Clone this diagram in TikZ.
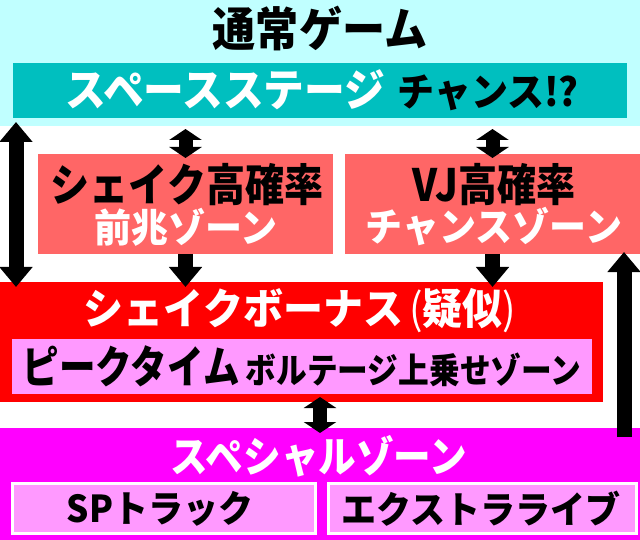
\documentclass[tikz,border=0pt]{standalone}
\usepackage{fontspec}
\setmainfont{Noto Sans CJK JP}[BoldFont={Noto Sans CJK JP Black}]
\usetikzlibrary{arrows.meta,calc}
\definecolor{cyanbg}{HTML}{C0FFFF}
\definecolor{tealbox}{HTML}{00BFBF}
\definecolor{salmon}{HTML}{FF6666}
\definecolor{redbox}{HTML}{FF0000}
\definecolor{pinkbox}{HTML}{FF99FF}
\definecolor{magbox}{HTML}{FF00FF}
\newcommand\fsz[1]{\fontsize{#1}{#1}\selectfont}
\newcommand\xsc[2]{\scalebox{#1}[1.06]{#2}}
\begin{document}
\begin{tikzpicture}[x=1pt,y=-1pt,
  area/.style={draw=none, inner sep=0pt, outer sep=0pt, anchor=north west},
  lbl/.style={inner sep=0pt, outer sep=0pt, font=\bfseries},
  bigarrow/.style={line width=15pt, -{Triangle[width=32pt,length=20pt]}},
  bigdbl/.style={line width=15pt, {Triangle[width=32pt,length=20pt]}-{Triangle[width=32pt,length=20pt]}},
  smalldbl/.style={line width=14pt, {Triangle[width=32pt,length=11pt]}-{Triangle[width=32pt,length=11pt]}},
]
\useasboundingbox (0,0) rectangle (640,540);
\fill[white] (0,0) rectangle (640,540);

% areas
\node[area, fill=cyanbg, minimum width=640pt, minimum height=126pt] (bg) at (0,0) {};
\node[area, fill=tealbox, minimum width=614pt, minimum height=55pt] (teal) at (13,63) {};
\node[area, fill=salmon, minimum width=295pt, minimum height=100pt] (sL) at (38,154) {};
\node[area, fill=salmon, minimum width=295pt, minimum height=100pt] (sR) at (345,154) {};
\node[area, fill=redbox, minimum width=603pt, minimum height=120pt] (red) at (0,282) {};
\node[area, fill=pinkbox, minimum width=580pt, minimum height=55pt] (pk) at (12,339) {};
\node[area, fill=magbox, minimum width=640pt, minimum height=112pt] (mag) at (0,428) {};
\node[area, fill=pinkbox, draw=white, line width=3.5pt, minimum width=303pt, minimum height=50pt] (spL) at (12.5,483.5) {};
\node[area, fill=pinkbox, draw=white, line width=3.5pt, minimum width=308pt, minimum height=50pt] (spR) at (328.5,483.5) {};

% texts
\node[lbl] (title) at (320,28) {\fsz{44}\xsc{0.98}{通常ゲーム}};
\node[lbl] (tealtxt) at (322,90) {{\color{white}\fsz{42}\xsc{0.97}{スペースステージ}}\hspace{12pt}{\fsz{37}\xsc{1}{チャンス!?}}};
\node[lbl] (sL1) at (187,185) {\fsz{42}\xsc{0.93}{シェイク高確率}};
\node[lbl, text=white] (sL2) at (186,227) {\fsz{37}\xsc{1}{前兆ゾーン}};
\node[lbl] (sR1) at (494,185) {\fsz{42}\xsc{0.93}{VJ高確率}};
\node[lbl, text=white] (sR2) at (494,227) {\fsz{37}\xsc{1}{チャンスゾーン}};
\node[lbl, text=white] (redtxt) at (300,311) {\fsz{40}\xsc{1}{シェイクボーナス\hspace{6pt}{\mdseries(}疑似{\mdseries)}}};
\node[lbl] (pktxt) at (302,366) {{\fsz{42}\xsc{0.87}{ピークタイム}}\hspace{6pt}{\fsz{33}\xsc{0.93}{ボルテージ上乗せゾーン}}};
\node[lbl, text=white] (magtxt) at (319,456) {\fsz{40}\xsc{0.94}{スペシャルゾーン}};
\node[lbl] (spLtxt) at (160,509) {\fsz{35}\xsc{1}{SPトラック}};
\node[lbl] (spRtxt) at (481,509) {\fsz{35}\xsc{1}{エクストラライブ}};

% connectors
\draw[bigdbl] ($(bg.south west)+(16,-4)$) -- ($(red.north west)+(16,5)$);
\draw[smalldbl] ($(sL.north)+(0,-25)$) -- ($(sL.north)+(0,4)$);
\draw[smalldbl] ($(sR.north)+(0,-25)$) -- ($(sR.north)+(0,4)$);
\draw[bigarrow] (sL.south) -- ($(red.north -| sL.south)+(0,5)$);
\draw[bigarrow] (sR.south) -- ($(red.north -| sR.south)+(0,5)$);
\draw[bigarrow] ($(mag.north east)+(-16,9)$) -- ($(sR.south east)+(-16,-2)$);
\draw[smalldbl] ($(mag.north)+(0,-31)$) -- ($(mag.north)+(0,5)$);
\end{tikzpicture}
\end{document}
